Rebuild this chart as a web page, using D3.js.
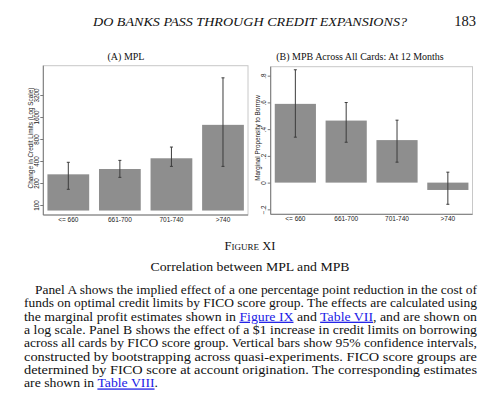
<!DOCTYPE html>
<html>
<head>
<meta charset="utf-8">
<script src="https://cdn.jsdelivr.net/npm/d3@7"></script>
<style>
  body { margin: 0; background: #fff; }
  svg { display: block; }
</style>
</head>
<body>
<div class="canvas"></div>
<script>
// FICO score groups
const groups = ["<= 660", "661-700", "701-740", ">740"]

// Panel A: change in credit limits (log scale), with 95% CI
const mplValues = [263, 311, 436, 1250]
const mplLow = [164, 239, 338, 338]
const mplHigh = [384, 408, 621, 5500]
const mplTicks = [100, 200, 400, 800, 1600, 3200]

// Panel B: marginal propensity to borrow, with 95% CI
const mpbValues = [0.589, 0.464, 0.318, -0.055]
const mpbLow = [0.34, 0.302, 0.153, -0.162]
const mpbHigh = [0.844, 0.599, 0.467, 0.078]
const mpbTicks = [-0.2, 0, 0.2, 0.4, 0.6, 0.8]

const captionLines = [
  ["Panel A shows the implied effect of a one percentage point reduction in the cost of"],
  ["funds on optimal credit limits by FICO score group. The effects are calculated using"],
  ["the marginal profit estimates shown in ", {link: "Figure IX"}, " and ", {link: "Table VII"}, ", and are shown on"],
  ["a log scale. Panel B shows the effect of a $1 increase in credit limits on borrowing"],
  ["across all cards by FICO score group. Vertical bars show 95% confidence intervals,"],
  ["constructed by bootstrapping across quasi-experiments. FICO score groups are"],
  ["determined by FICO score at account origination. The corresponding estimates"],
  ["are shown in ", {link: "Table VIII"}, "."]
]

const svg = d3
  .select(".canvas")
  .append("svg")
  .attr("width", 500)
  .attr("height", 405)
  .style("background", "#fff")

const serif = "'Liberation Serif', 'Times New Roman', serif"
const sans = "'Liberation Sans', Arial, sans-serif"

// running header
svg.append("text")
  .attr("x", 250).attr("y", 26)
  .attr("text-anchor", "middle")
  .attr("font-family", serif).attr("font-style", "italic")
  .attr("font-size", 12.5)
  .attr("textLength", 314).attr("lengthAdjust", "spacingAndGlyphs")
  .attr("fill", "#111")
  .text("DO BANKS PASS THROUGH CREDIT EXPANSIONS?")
svg.append("text")
  .attr("x", 476).attr("y", 26)
  .attr("text-anchor", "end")
  .attr("font-family", serif).attr("font-size", 14.5)
  .attr("fill", "#111")
  .text("183")

function drawPanel(opt) {
  const g = svg.append("g")
  const x = d3.scaleBand()
    .domain(groups)
    .range([opt.left, opt.right])
    .paddingInner(0.19)
    .paddingOuter(0.08)
  const y = opt.y

  // plot region border
  g.append("rect")
    .attr("x", opt.left).attr("y", opt.top)
    .attr("width", opt.right - opt.left)
    .attr("height", opt.bottom - opt.top)
    .attr("fill", "#fff")
    .attr("stroke", "#c8c8c8")
    .attr("stroke-width", 1)

  // bars
  g.selectAll("rect.bar")
    .data(opt.values)
    .enter()
    .append("rect")
    .attr("class", "bar")
    .attr("x", (d, i) => x(groups[i]))
    .attr("width", x.bandwidth())
    .attr("y", d => Math.min(y(d), y(opt.base)))
    .attr("height", d => Math.abs(y(d) - y(opt.base)))
    .attr("fill", "#8e8e8e")

  // confidence intervals
  const ci = g.selectAll("g.ci")
    .data(opt.values)
    .enter()
    .append("g")
    .attr("stroke", "#3c3c3c")
    .attr("stroke-width", 1)
  ci.append("line")
    .attr("x1", (d, i) => x(groups[i]) + x.bandwidth() / 2)
    .attr("x2", (d, i) => x(groups[i]) + x.bandwidth() / 2)
    .attr("y1", (d, i) => y(opt.low[i]))
    .attr("y2", (d, i) => y(opt.high[i]))
  ci.append("line")
    .attr("x1", (d, i) => x(groups[i]) + x.bandwidth() / 2 - 1.5)
    .attr("x2", (d, i) => x(groups[i]) + x.bandwidth() / 2 + 1.5)
    .attr("y1", (d, i) => y(opt.low[i]))
    .attr("y2", (d, i) => y(opt.low[i]))
  ci.append("line")
    .attr("x1", (d, i) => x(groups[i]) + x.bandwidth() / 2 - 1.5)
    .attr("x2", (d, i) => x(groups[i]) + x.bandwidth() / 2 + 1.5)
    .attr("y1", (d, i) => y(opt.high[i]))
    .attr("y2", (d, i) => y(opt.high[i]))

  // y axis
  const yAxis = g.append("g")
    .attr("transform", `translate(${opt.left},0)`)
    .call(d3.axisLeft(y).tickValues(opt.ticks).tickSize(3).tickFormat(opt.format))
  yAxis.select(".domain").attr("stroke", "#777").attr("d", `M0,${opt.top}V${opt.bottom}`)
  yAxis.selectAll(".tick line").attr("stroke", "#777")
  yAxis.selectAll(".tick text")
    .attr("x", 0).attr("dy", 0)
    .attr("transform", "translate(-4.5,0) rotate(-90)")
    .attr("text-anchor", "middle")
    .attr("font-family", sans).attr("font-size", 6.3)
    .attr("fill", "#222")

  // x axis
  const xAxis = g.append("g")
    .attr("transform", `translate(0,${opt.bottom})`)
    .call(d3.axisBottom(x).tickSize(0))
  xAxis.select(".domain").attr("stroke", "#777").attr("d", `M${opt.left},0H${opt.right}`)
  xAxis.selectAll(".tick text")
    .attr("y", 7).attr("dy", 0)
    .attr("font-family", sans).attr("font-size", 6.5)
    .attr("fill", "#222")

  // axis title
  g.append("text")
    .attr("transform", `translate(${opt.titleX},138) rotate(-90)`)
    .attr("text-anchor", "middle")
    .attr("font-family", sans).attr("font-size", 6.4)
    .attr("fill", "#222")
    .text(opt.yTitle)

  // panel title
  g.append("text")
    .attr("x", opt.headX).attr("y", 59.5)
    .attr("text-anchor", "middle")
    .attr("font-family", serif).attr("font-size", 10)
    .attr("fill", "#111")
    .text(opt.head)
}

drawPanel({
  left: 43.3, right: 248, top: 65.7, bottom: 215,
  y: d3.scaleLog().domain([73, 8060]).range([215, 65.7]),
  base: 84,
  values: mplValues, low: mplLow, high: mplHigh,
  ticks: mplTicks, format: d => d,
  yTitle: "Change in Credit Limits (Log Scale)", titleX: 32.8,
  head: "(A) MPL", headX: 126
})

drawPanel({
  left: 270.7, right: 472.5, top: 66.7, bottom: 214.3,
  y: d3.scaleLinear().domain([-0.237, 0.867]).range([214.3, 66.7]),
  base: 0,
  values: mpbValues, low: mpbLow, high: mpbHigh,
  ticks: mpbTicks, format: d => d === 0 ? "0" : d3.format(".1f")(d).replace("0.", "."),
  yTitle: "Marginal Propensity to Borrow", titleX: 259.8,
  head: "(B) MPB Across All Cards: At 12 Months", headX: 360
})

// caption
svg.append("text")
  .attr("x", 250).attr("y", 250)
  .attr("text-anchor", "middle")
  .attr("font-family", serif).attr("font-size", 12.5)
  .style("font-variant", "small-caps")
  .attr("fill", "#111")
  .text("Figure XI")
svg.append("text")
  .attr("x", 250).attr("y", 270.5)
  .attr("text-anchor", "middle")
  .attr("font-family", serif).attr("font-size", 12.5)
  .attr("textLength", 199).attr("lengthAdjust", "spacingAndGlyphs")
  .attr("fill", "#111")
  .text("Correlation between MPL and MPB")

captionLines.forEach((parts, i) => {
  const left = i === 0 ? 35 : 24
  const last = i === captionLines.length - 1
  const t = svg.append("text")
    .attr("x", left).attr("y", 294 + i * 13.35)
    .attr("font-family", serif).attr("font-size", 12.6)
    .attr("fill", "#111")
    .attr("textLength", last ? 134 : 477 - left)
    .attr("lengthAdjust", "spacingAndGlyphs")
  parts.forEach(p => {
    if (typeof p === "string") t.append("tspan").text(p)
    else t.append("tspan").attr("fill", "#1a1ae6").attr("text-decoration", "underline").text(p.link)
  })
})
</script>
</body>
</html>
